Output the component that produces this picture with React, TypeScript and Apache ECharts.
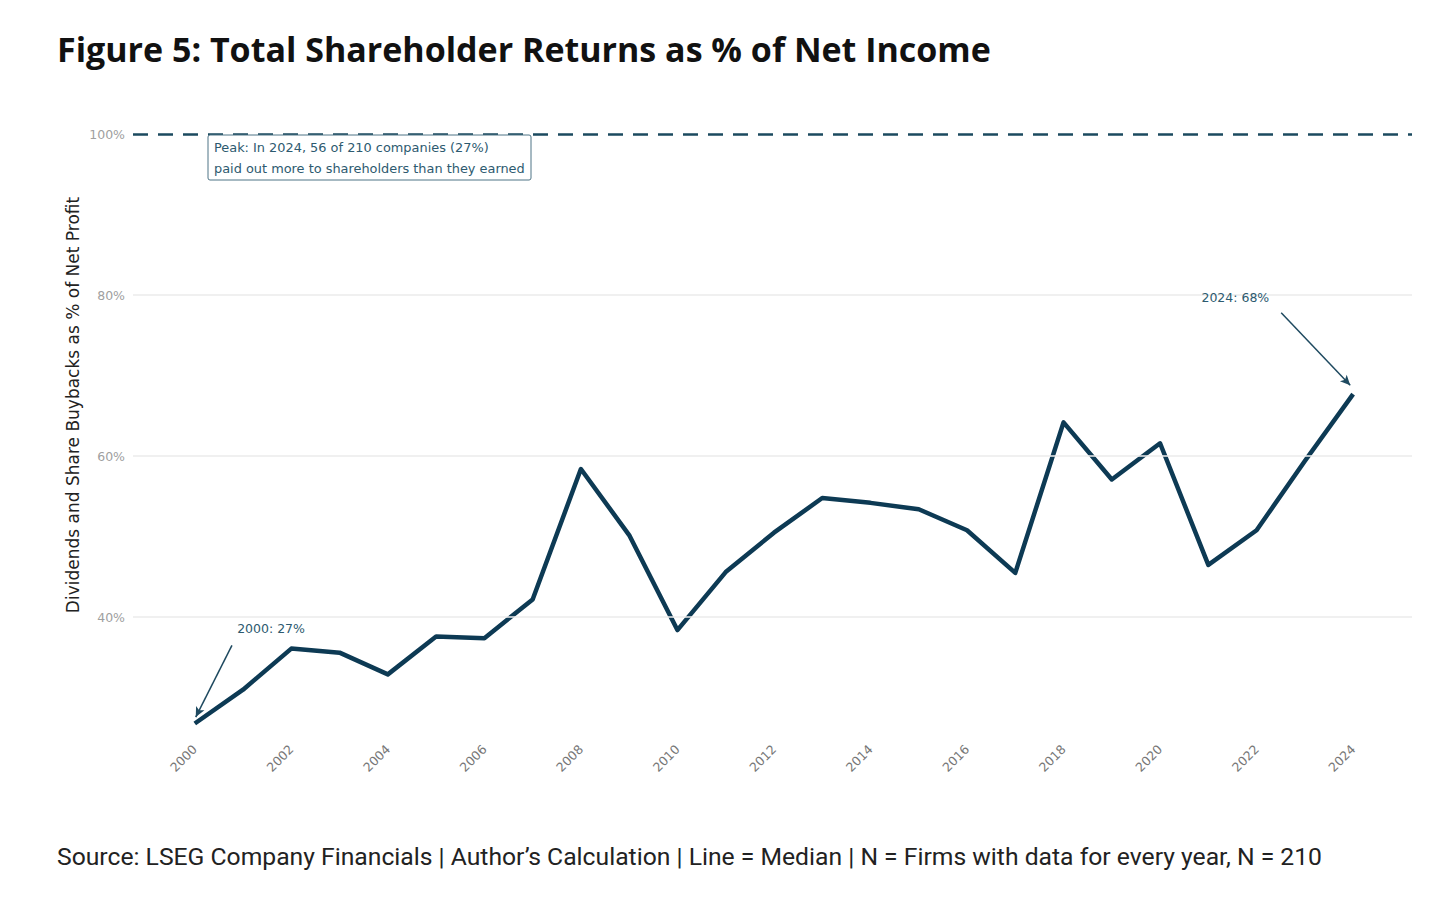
import React, { useEffect, useRef } from "react";
import * as echarts from "echarts";

const years = [2000, 2001, 2002, 2003, 2004, 2005, 2006, 2007, 2008, 2009, 2010, 2011, 2012, 2013, 2014, 2015, 2016, 2017, 2018, 2019, 2020, 2021, 2022, 2023, 2024];
const medianPct = [26.8, 31.0, 36.1, 35.6, 32.9, 37.6, 37.4, 42.2, 58.4, 50.2, 38.4, 45.6, 50.5, 54.8, 54.2, 53.4, 50.8, 45.5, 64.2, 57.1, 61.6, 46.5, 50.8, 59.4, 67.7];
const xTickValues = [2000, 2002, 2004, 2006, 2008, 2010, 2012, 2014, 2016, 2018, 2020, 2022, 2024];
const yTickValues = [40, 60, 80, 100];
const gridValues = [40, 60, 80];
const thresholdValue = 100;

const TITLE = "Figure 5: Total Shareholder Returns as % of Net Income";
const SOURCE = "Source: LSEG Company Financials | Author\u2019s Calculation | Line = Median | N = Firms with data for every year, N = 210";
const YNAME = "Dividends and Share Buybacks as % of Net Profit";
const PEAK_NOTE = "Peak: In 2024, 56 of 210 companies (27%)\npaid out more to shareholders than they earned";

const ANN = "#2d5a6f";
const LINE = "#0d3a54";
const SMALL = "'DejaVu Sans'";

export default function App() {
  const ref = useRef<HTMLDivElement>(null);
  useEffect(() => {
    document.body.style.margin = "0";
    const chart = echarts.init(ref.current!, null, { renderer: "svg" });
    const option: any = {
      animation: false,
      backgroundColor: "#ffffff",
      title: [
        {
          text: TITLE,
          left: 57,
          top: 32,
          padding: 0,
          textStyle: { fontFamily: "Open Sans", fontWeight: 700, fontSize: 34, color: "#111111" },
        },
        {
          text: SOURCE,
          left: 57,
          top: 844,
          padding: 0,
          textStyle: { fontFamily: "Roboto", fontWeight: 400, fontSize: 24.7, color: "#222222" },
        },
      ],
      grid: { left: 133, right: 44, top: 126, bottom: 178 },
      xAxis: {
        type: "value",
        min: 1998.72,
        max: 2025.22,
        axisLine: { show: false },
        axisTick: { show: false },
        splitLine: { show: false },
        axisLabel: {
          customValues: xTickValues,
          rotate: 45,
          margin: 9,
          color: "#777777",
          fontSize: 12.5,
          fontFamily: SMALL,
          formatter: (v: number) => String(v),
        },
      },
      yAxis: {
        type: "value",
        min: 25,
        max: 101,
        interval: 5,
        axisLine: { show: false },
        axisTick: { show: false },
        splitLine: { show: false },
        axisLabel: {
          margin: 8,
          color: "#a0a0a0",
          fontSize: 12.5,
          fontFamily: SMALL,
          formatter: (v: number) => (yTickValues.includes(v) ? v + "%" : ""),
        },
      },
      graphic: [
        {
          type: "text",
          x: 73,
          y: 405,
          rotation: Math.PI / 2,
          style: {
            text: YNAME,
            fill: "#222222",
            font: "17px " + SMALL,
            align: "center",
            verticalAlign: "middle",
          },
        },
        {
          type: "rect",
          x: 208,
          y: 135,
          z: 100,
          shape: { width: 323, height: 45, r: 2 },
          style: { fill: "#ffffff", stroke: "#4f7486", lineWidth: 1 },
        },
        {
          type: "text",
          x: 214,
          y: 136.5,
          z: 101,
          style: {
            text: PEAK_NOTE,
            fill: ANN,
            font: "12.9px " + SMALL,
            lineHeight: 21,
          },
        },
      ],
      series: [
        {
          type: "line",
          data: [],
          z: 1,
          silent: true,
          markLine: {
            silent: true,
            symbol: "none",
            label: { show: false },
            lineStyle: { color: "#ebebeb", width: 1.5, type: "solid" },
            data: gridValues.map((v) => ({ yAxis: v })),
          },
        },
        {
          type: "line",
          name: "Median",
          z: 3,
          data: years.map((y, i) => [y, medianPct[i]]),
          showSymbol: false,
          lineStyle: { color: LINE, width: 4.5, join: "round" },
          markLine: {
            silent: true,
            label: { show: false },
            data: [
              [
                { coord: [2000.77, 36.5], symbol: "none", lineStyle: { color: "#1f4a60", width: 1.5, type: "solid" } },
                { coord: [2000.02, 27.6], symbol: "arrow", symbolSize: [7, 10] },
              ],
              [
                { coord: [2022.51, 77.8], symbol: "none", lineStyle: { color: "#1f4a60", width: 1.5, type: "solid" } },
                { coord: [2023.94, 68.8], symbol: "arrow", symbolSize: [7, 10] },
              ],
              [
                { yAxis: thresholdValue, x: 133, symbol: "none", lineStyle: { color: "#1b4a5f", width: 2.5, type: [15, 10] } },
                { yAxis: thresholdValue, x: 1412, symbol: "none" },
              ],
            ],
          },
          markPoint: {
            silent: true,
            symbol: "circle",
            symbolSize: 0,
            label: {
              show: true,
              position: "inside",
              color: ANN,
              fontSize: 12.5,
              fontFamily: SMALL,
              formatter: (p: any) => p.name,
            },
            data: [
              { name: "2000: 27%", coord: [2001.58, 38.6] },
              { name: "2024: 68%", coord: [2021.56, 79.75] },
            ],
          },
        },
      ],
    };
    chart.setOption(option);
    return () => chart.dispose();
  }, []);
  return <div ref={ref} style={{ width: 1456, height: 916 }} />;
}
